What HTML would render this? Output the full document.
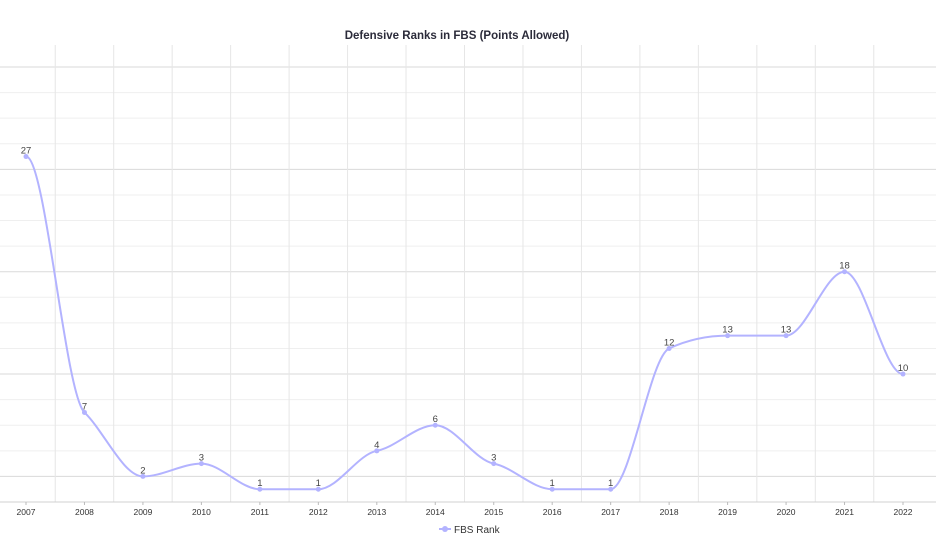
<!DOCTYPE html>
<html><head><meta charset="utf-8"><style>
body{margin:0;background:#fff;font-family:"Liberation Sans",sans-serif}
svg{display:block}
</style></head><body>
<svg id="chart" width="936" height="546">
<text x="457" y="39" text-anchor="middle" font-size="11.5" font-weight="bold" fill="#2b2b3a">Defensive Ranks in FBS (Points Allowed)</text>
<g id="grid"></g>
<g id="xaxis"></g>
<g id="series"></g>
<g>
<line x1="439" y1="529" x2="451" y2="529" stroke="#b3b3ff" stroke-width="2"/>
<circle cx="445" cy="529" r="3" fill="#b3b3ff"/>
<text x="454" y="533" font-size="10" fill="#333">FBS Rank</text>
</g>
</svg>
<script>
const categories=["2007","2008","2009","2010","2011","2012","2013","2014","2015","2016","2017","2018","2019","2020","2021","2022"];
const ranks=[27,7,2,3,1,1,4,6,3,1,1,12,13,13,18,10];
const yMin=0,yMax=34,yStep=2;
const x0=26,x1=903,yTop=67,yBot=502;
const X=i=>x0+i*(x1-x0)/(categories.length-1);
const Y=v=>yBot-(v-yMin)/(yMax-yMin)*(yBot-yTop);
const NS="http://www.w3.org/2000/svg";
function mk(t,a,p){const e=document.createElementNS(NS,t);for(const k in a)e.setAttribute(k,a[k]);p.appendChild(e);return e;}
const grid=document.getElementById('grid'),xa=document.getElementById('xaxis'),sg=document.getElementById('series');
for(let v=yMin+yStep;v<=yMax;v+=yStep){
 const l=mk('line',{x1:0,x2:936,y1:Y(v),y2:Y(v),stroke:((v-2)%8===0)?'#dadada':'#efefef','stroke-width':1},grid);
 
 
}
const dx=(x1-x0)/(categories.length-1);
for(let i=0;i<categories.length-1;i++){
 const l=mk('line',{x1:X(i)+dx/2,x2:X(i)+dx/2,y1:45,y2:yBot,stroke:'#e6e6e6','stroke-width':1},grid);
 
 
}
const ax=mk('line',{x1:0,x2:936,y1:yBot,y2:yBot,stroke:'#d0d0d0'},xa);


categories.forEach((c,i)=>{
 mk('line',{x1:X(i),x2:X(i),y1:yBot,y2:yBot+3,stroke:'#bbb'},xa);
 const t=mk('text',{x:X(i),y:515,'text-anchor':'middle','font-size':'8.5',fill:'#333'},xa);
 t.textContent=c;
 
 
});
const pts=ranks.map((v,i)=>[X(i),Y(v)]);
const n=pts.length,d=[],m=[];
for(let i=0;i<n-1;i++)d.push((pts[i+1][1]-pts[i][1])/(pts[i+1][0]-pts[i][0]));
for(let i=0;i<n;i++){
 if(i===0||i===n-1)m.push(0);
 else m.push(d[i-1]*d[i]<=0?0:0.35*(d[i-1]+d[i])/2);
}
let p='M'+pts[0][0]+','+pts[0][1];
for(let i=0;i<n-1;i++){
 const h=(pts[i+1][0]-pts[i][0])/3;
 p+=' C'+(pts[i][0]+h)+','+(pts[i][1]+m[i]*h)+' '+(pts[i+1][0]-h)+','+(pts[i+1][1]-m[i+1]*h)+' '+pts[i+1][0]+','+pts[i+1][1];
}
const line=mk('path',{d:p,fill:'none',stroke:'#b3b3ff','stroke-width':2},sg);


ranks.forEach((v,i)=>{
 const c=mk('circle',{cx:X(i),cy:Y(v),r:2.5,fill:'#b3b3ff'},sg);
 
 
 const t=mk('text',{x:X(i),y:Y(v)-3,'text-anchor':'middle','font-size':'9.5',fill:'#444'},sg);
 t.textContent=v;
 
 
});
</script>
</body></html>
